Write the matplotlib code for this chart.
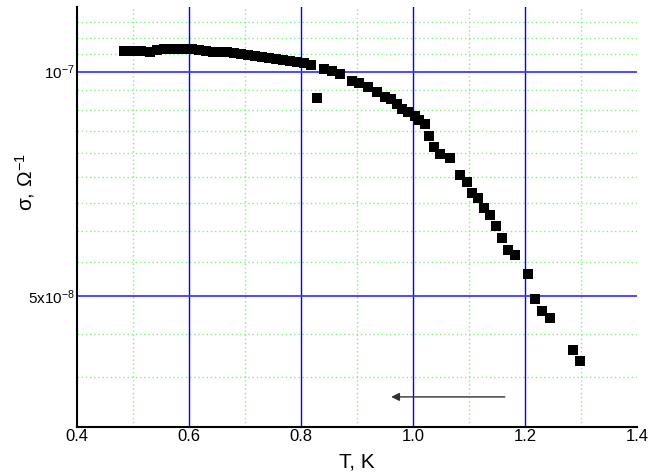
import matplotlib
matplotlib.use("Agg")
import matplotlib.pyplot as plt
import numpy as np

# temperatura, K
T = [0.484, 0.498, 0.514,
     0.530, 0.543, 0.555, 0.568, 0.580, 0.593, 0.605, 0.618, 0.630, 0.643,
     0.655, 0.668, 0.680, 0.693, 0.705, 0.718, 0.730, 0.743, 0.755, 0.768,
     0.780, 0.793, 0.805, 0.818,
     0.841, 0.855, 0.870, 0.891, 0.904, 0.920, 0.936, 0.950, 0.961, 0.971,
     0.980, 0.991, 1.004, 1.011, 1.021, 1.029, 1.0375, 1.048, 1.066, 1.084,
     1.096, 1.105, 1.116, 1.127, 1.1375, 1.148, 1.159, 1.170, 1.182, 1.205,
     1.218, 1.230, 1.245, 1.286, 1.298]
# przewodnictwo w jednostkach 1e-7 Ohm^-1
sigma = [1.066, 1.066, 1.066,
         1.064, 1.069, 1.072, 1.074, 1.074, 1.073, 1.071, 1.069, 1.066, 1.064,
         1.063, 1.061, 1.060, 1.056, 1.053, 1.050, 1.046, 1.043, 1.040, 1.037,
         1.034, 1.030, 1.027, 1.021,
         1.008, 1.002, 0.993, 0.972, 0.966, 0.954, 0.939, 0.925, 0.919, 0.905,
         0.891, 0.883, 0.872, 0.861, 0.851, 0.820, 0.792, 0.775, 0.766, 0.727,
         0.711, 0.688, 0.677, 0.656, 0.642, 0.621, 0.598, 0.576, 0.568, 0.535,
         0.4955, 0.4774, 0.4671, 0.423, 0.409]
# punkt odstajacy
T_out = [0.829]
sigma_out = [0.923]

x_ticks = [0.4, 0.6, 0.8, 1.0, 1.2, 1.4]
x_tick_labels = ["0.4", "0.6", "0.8", "1.0", "1.2", "1.4"]
x_major_grid = [0.6, 0.8, 1.0, 1.2]
x_minor_grid = [0.5, 0.7, 0.9, 1.1, 1.3]
y_ticks = [5e-8, 1e-7]
y_tick_labels = [r"5x10$^{-8}$", r"10$^{-7}$"]
y_minor_step = 5e-8 / 9
y_minor_grid = [n * y_minor_step for n in range(7, 22) if n not in (9, 18)]

plt.rcParams['font.family'] = ['Liberation Sans', 'DejaVu Sans']
plt.rcParams['mathtext.fontset'] = 'custom'
plt.rcParams['mathtext.rm'] = 'Liberation Sans'
plt.rcParams['mathtext.it'] = 'Liberation Sans'

fig = plt.figure(figsize=(6.48, 4.76), dpi=100)
ax = fig.add_axes([77 / 648, 1 - 427 / 476, 560 / 648, 420 / 476])

ax.set_yscale('log')
ax.set_xlim(0.4, 1.4)
ax.set_ylim(3.335e-8, 1.221e-7)

for x in x_minor_grid:
    ax.axvline(x, color='#88ee88', lw=1.0, ls=(0, (1, 2)), zorder=1)
for y in y_minor_grid:
    ax.axhline(y, color='#88ee88', lw=1.0, ls=(0, (1, 2)), zorder=1)
for x in x_major_grid:
    ax.axvline(x, color='#0000ff', lw=1.0, zorder=2)
for y in y_ticks:
    ax.axhline(y, color='#3c3cff', lw=1.3, zorder=2)

s = np.array(sigma) * 1e-7
s_out = np.array(sigma_out) * 1e-7
ax.plot(T, s, 's', color='black', markersize=6.8, mew=0, zorder=3)
ax.plot(T_out, s_out, 's', color='black', markersize=6.8, mew=0, zorder=3)

ax.annotate("", xy=(0.961, 3.66e-8), xytext=(1.164, 3.66e-8),
            arrowprops=dict(arrowstyle='-|>', color='#333333', lw=1.0,
                            mutation_scale=12, shrinkA=0, shrinkB=0))

ax.set_xticks(x_ticks)
ax.set_xticklabels(x_tick_labels, fontsize=12)
ax.yaxis.set_minor_locator(matplotlib.ticker.NullLocator())
ax.set_yticks(y_ticks)
ax.set_yticklabels(y_tick_labels, fontsize=11)
ax.tick_params(axis='both', length=0, pad=1.5)

for side in ['top', 'right']:
    ax.spines[side].set_visible(False)
for side in ['left', 'bottom']:
    ax.spines[side].set_linewidth(1.5)
    ax.spines[side].set_zorder(4)

ax.set_xlabel("T, K", fontsize=15, labelpad=6)
ax.set_ylabel(r"σ, Ω$^{-1}$", fontsize=15, va='center')
ax.yaxis.set_label_coords(-0.093, 0.583)

fig.savefig("out.png", dpi=100)
